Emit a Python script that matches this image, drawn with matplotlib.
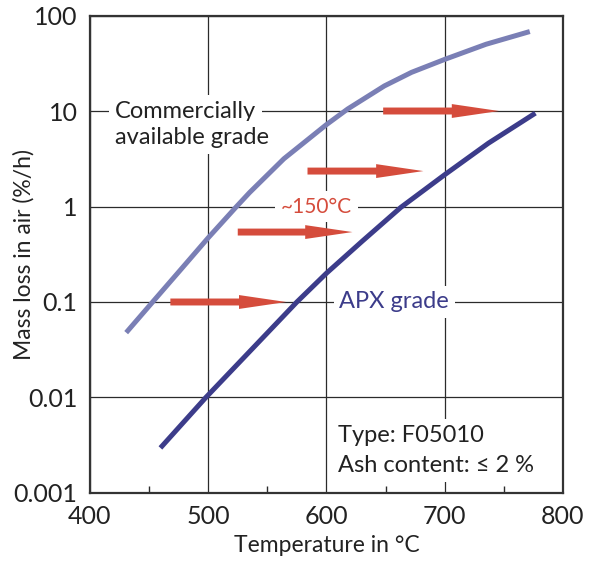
import numpy as np
import matplotlib
matplotlib.use("Agg")
import matplotlib.pyplot as plt
from matplotlib.ticker import FixedLocator, NullLocator

plt.rcParams['font.family'] = ['Lato', 'DejaVu Sans']

# mass loss curves (temperature in degC, mass loss in %/h)
commercial_T = [432, 453, 477, 500, 524, 535, 564, 600, 618, 649, 672, 700, 735, 770]
commercial_loss = [0.05, 0.1, 0.22, 0.47, 1.0, 1.4, 3.16, 7.2, 10.5, 18.3, 25.4, 34.7, 50.0, 66.8]

apx_T = [461, 498, 575, 600, 630, 663, 700, 737, 775]
apx_loss = [0.0031, 0.01, 0.1, 0.2, 0.43, 0.98, 2.15, 4.6, 9.2]

# ~150 degC shift arrows
arrow_start = [468, 525, 584, 648]
arrow_end = [566, 622, 682, 746]
arrow_level = [0.1, 0.54, 2.35, 10.0]

x_ticks = [400, 500, 600, 700, 800]
y_ticks = [0.001, 0.01, 0.1, 1, 10, 100]
y_tick_labels = ["0.001", "0.01", "0.1", "1", "10", "100"]

c_comm = '#7a7fb5'
c_apx = '#3c3c8a'
c_red = '#d54c3c'
c_grid = '#2b2b2b'
c_text = '#222222'

fig = plt.figure(figsize=(5.9, 5.62), dpi=100)
ax = fig.add_axes([0.1525, 0.1228, 0.8015, 0.8496])

ax.set_yscale('log')
ax.set_xlim(400, 800)
ax.set_ylim(0.001, 100)

ax.xaxis.set_major_locator(FixedLocator(x_ticks))
ax.xaxis.set_minor_locator(FixedLocator([450, 550, 650, 750]))
ax.yaxis.set_major_locator(FixedLocator(y_ticks))
ax.yaxis.set_minor_locator(NullLocator())
ax.set_yticklabels(y_tick_labels)

ax.tick_params(which='major', length=0, labelsize=18, pad=9, colors=c_text)
ax.tick_params(axis='x', which='minor', direction='in', length=5, width=1, color=c_grid)
ax.tick_params(axis='y', which='minor', length=0)

ax.grid(True, which='major', color=c_grid, linewidth=0.9, zorder=0)
ax.set_axisbelow(True)
for s in ax.spines.values():
    s.set_color('#333333')
    s.set_linewidth(1.6)

ax.set_xlabel('Temperature in °C', fontsize=16.5, color=c_text, labelpad=5)
ax.set_ylabel('Mass loss in air (%/h)', fontsize=16.5, color=c_text)
ax.yaxis.set_label_coords(-0.118, 0.5)

ax.plot(commercial_T, commercial_loss, color=c_comm, linewidth=3.6, zorder=3,
        solid_joinstyle='round')
ax.plot(apx_T, apx_loss, color=c_apx, linewidth=3.6, zorder=3, solid_joinstyle='round')

for x0, x1, y in zip(arrow_start, arrow_end, arrow_level):
    ax.annotate('', xy=(x1, y), xytext=(x0, y),
                arrowprops=dict(arrowstyle='simple,head_length=3.4,head_width=1.0,tail_width=0.5',
                                mutation_scale=10, color=c_red, shrinkA=0, shrinkB=0, lw=0),
                zorder=4)

box = dict(facecolor='white', edgecolor='none', pad=4)
ax.text(421, 10, 'Commercially', fontsize=17, color=c_text, ha='left', va='center', bbox=box, zorder=2)
ax.text(421, 5.3, 'available grade', fontsize=17, color=c_text, ha='left', va='center', bbox=box, zorder=2)
ax.text(591.5, 1, '~150°C', fontsize=15, color=c_red, ha='center', va='center', bbox=box, zorder=2)
ax.text(611, 0.1, 'APX grade', fontsize=17, color=c_apx, ha='left', va='center', bbox=box, zorder=2)
ax.text(610, 0.004, 'Type: F05010', fontsize=17, color=c_text, ha='left', va='center', bbox=box, zorder=2)
ax.text(610, 0.00194, 'Ash content: ≤ 2 %', fontsize=17, color=c_text, ha='left', va='center', bbox=box, zorder=2)

fig.savefig('out.png', dpi=100)
